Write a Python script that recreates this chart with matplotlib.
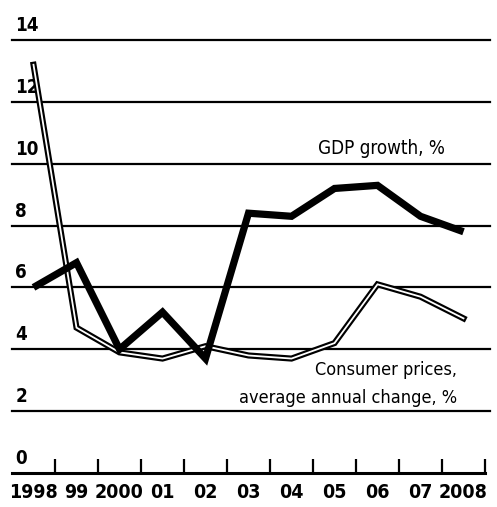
import matplotlib
matplotlib.use("Agg")
import matplotlib.pyplot as plt
import matplotlib.patheffects as pe

# Data
years = [1998, 1999, 2000, 2001, 2002, 2003, 2004, 2005, 2006, 2007, 2008]
year_labels = ["1998", "99", "2000", "01", "02", "03", "04", "05", "06", "07", "2008"]
gdp_growth = [6.0, 6.8, 4.0, 5.2, 3.7, 8.4, 8.3, 9.2, 9.3, 8.3, 7.8]
consumer_prices = [13.2, 4.7, 3.9, 3.7, 4.1, 3.8, 3.7, 4.2, 6.1, 5.7, 5.0]
y_ticks = [0, 2, 4, 6, 8, 10, 12, 14]

FONT = ["DejaVu Sans"]

W, H = 497, 507
fig = plt.figure(figsize=(W / 100, H / 100), dpi=100)
ax = fig.add_axes([12 / W, 34 / H, (490 - 12) / W, (473 - 40) / H])

x_left = years[0] - 0.5
x_right = years[-1] + 0.5
ax.set_xlim(x_left, x_left + (490 - 12) / 43)
ax.set_ylim(0, 14)

# horizontal gridlines, with labels sitting on top of them
for v in y_ticks[1:]:
    ax.axhline(v, color="black", lw=1.6, zorder=1, clip_on=False)
for v in y_ticks:
    ax.annotate(str(v), xy=(0, v), xycoords=("axes fraction", "data"),
                xytext=(2.5, 6.5), textcoords="offset points",
                ha="left", va="baseline", fontsize=13.5, fontweight="bold",
                fontstretch="condensed", family=FONT, color="black")

# consumer prices: outlined (hollow) line
ax.plot(years, consumer_prices, color="white", lw=1.3, zorder=3,
        solid_joinstyle="miter",
        path_effects=[pe.Stroke(linewidth=4.4, foreground="black"), pe.Normal()])
# GDP growth: thick black line
ax.plot(years, gdp_growth, color="black", lw=5.2, zorder=4,
        solid_joinstyle="miter", solid_capstyle="butt")

# x axis: baseline with upward ticks on year boundaries
for s in ["top", "right", "left"]:
    ax.spines[s].set_visible(False)
ax.spines["bottom"].set_linewidth(2.2)
ax.spines["bottom"].set_bounds(x_left, x_right)
ax.set_yticks([])
bounds = [y - 0.5 for y in years] + [x_right]
ax.set_xticks(bounds[1:])
ax.set_xticklabels([])
ax.tick_params(axis="x", which="major", direction="in", length=10, width=1.6)
ax.set_xticks(years, minor=True)
ax.set_xticklabels(year_labels, minor=True)
ax.tick_params(axis="x", which="minor", length=0, pad=7)
for lab in ax.get_xticklabels(minor=True):
    lab.set_family(FONT)
    lab.set_fontsize(14)
    lab.set_fontweight("bold")
    lab.set_fontstretch("condensed")

# series labels
ax.text(2006.1, 10.5, "GDP growth, %", ha="center", va="center",
        fontsize=13.5, family=FONT, fontstretch="condensed")
ax.text(2007.85, 2.87, "Consumer prices,\naverage annual change, %",
        ha="right", va="center", fontsize=13, family=FONT,
        fontstretch="condensed", linespacing=1.75)

fig.savefig("out.png", dpi=100)
